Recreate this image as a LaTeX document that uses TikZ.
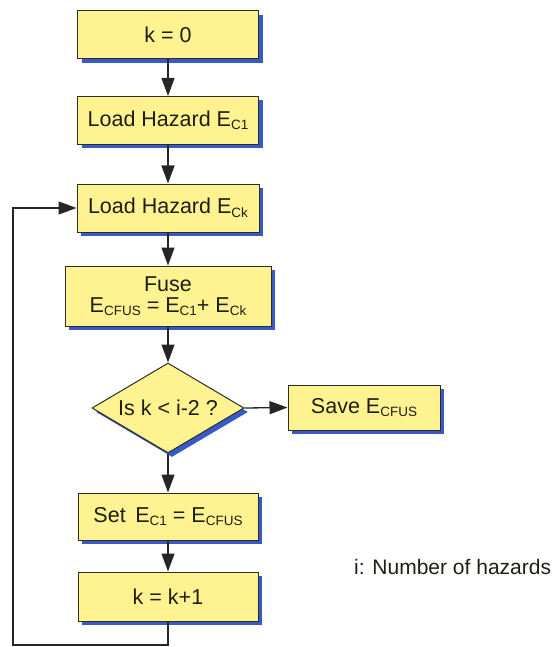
\documentclass[tikz,border=0pt]{standalone}
\usepackage{fontspec}
\setmainfont{Liberation Sans}
\usetikzlibrary{arrows.meta,shapes.geometric,shadows}

\definecolor{boxfill}{RGB}{255,243,145}
\definecolor{boxline}{RGB}{45,45,35}
\definecolor{shadowblue}{RGB}{55,90,200}
\definecolor{inkcol}{RGB}{30,30,20}

% lowered subscript used in the hazard names
\newcommand\sbs[1]{\raisebox{-3.5pt}{\fontsize{13.5}{13.5}\selectfont #1}}

\tikzset{
  base/.style={draw=boxline, line width=1pt, fill=boxfill, text=inkcol,
    inner sep=0pt, align=center,
    font=\fontsize{21.5}{25}\selectfont,
    drop shadow={shadow xshift=4pt, shadow yshift=-4pt, fill=shadowblue, opacity=1}},
  procbox/.style={base, rectangle, minimum width=181pt, minimum height=48pt},
  decbox/.style={base, diamond, aspect=1.69, minimum width=152pt, minimum height=90pt},
  flow/.style={draw=black!85, line width=1.3pt,
    -{Triangle[width=13pt,length=18pt]}}
}

\begin{document}
\begin{tikzpicture}[x=1pt, y=-1pt]
  \useasboundingbox (0,0) rectangle (553,647);

  \node[procbox] (k0)   at (168,35)    {k = 0};
  \node[procbox] (lh1)  at (168,120.5) {Load Hazard E\sbs{C1}};
  \node[procbox, minimum width=182pt] (lhk) at (168,208) {Load Hazard E\sbs{Ck}};
  \node[procbox, minimum width=206pt, minimum height=60pt] (fuse) at (168,296)
    {Fuse\\[-4pt] E\sbs{CFUS} = E\sbs{C1}+ E\sbs{Ck}};
  \node[decbox] (dec) at (168,408) {Is k < i-2 ?};
  \node[procbox, minimum width=152pt, minimum height=45pt] (save) at (364,407.5)
    {Save E\sbs{CFUS}};
  \node[procbox, minimum width=180pt, minimum height=47pt] (set) at (168,516.5)
    {Set\, E\sbs{C1} = E\sbs{CFUS}};
  \node[procbox, minimum width=180pt, minimum height=49pt] (inc) at (168,596.5)
    {k = k+1};

  \node[anchor=west, inner sep=0pt, text=inkcol, font=\fontsize{21}{25}\selectfont]
    (note) at (354,567) {i: Number of hazards};

  \draw[flow] (k0) -- (lh1);
  \draw[flow] (lh1) -- (lhk);
  \draw[flow] (lhk) -- (fuse);
  \draw[flow] (fuse) -- (dec);
  \draw[flow] (dec.east) -- (save.west);
  \draw[flow] (dec.south) -- (set.north);
  \draw[flow] (set) -- (inc);

  % loop back to the next hazard
  \coordinate (lb) at (13,645);
  \draw[flow] (inc.south) |- (lb) |- (lhk.west);
\end{tikzpicture}
\end{document}
